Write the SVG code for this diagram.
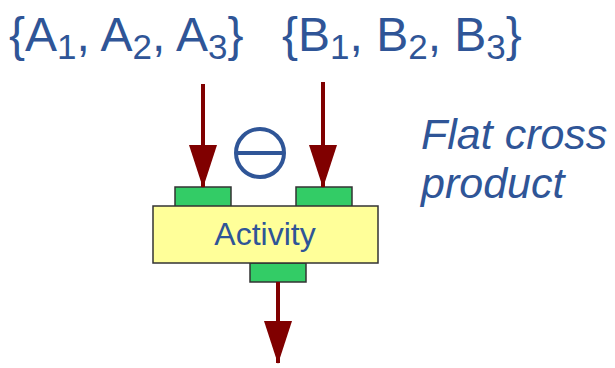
<svg xmlns="http://www.w3.org/2000/svg" width="615" height="368" viewBox="0 0 615 368">
<defs>
<style>
.t{font-family:"Liberation Sans",Arial,sans-serif;fill:#2F5597}
.pin{fill:#33CC66;stroke:#333;stroke-width:1.5}
.act{fill:#FFFF99;stroke:#333;stroke-width:1.5}
.flow{stroke:#800000;stroke-width:4;fill:none;marker-end:url(#ah)}
</style>
<marker id="ah" markerUnits="userSpaceOnUse" markerWidth="43" markerHeight="28" viewBox="0 0 43 28" refX="42" refY="14" orient="auto">
<path d="M0,0 L43,14 L0,28 z" fill="#800000"/>
</marker>
</defs>
<rect width="615" height="368" fill="#fff"/>
<g id="setA"><text class="t" x="9" y="51" font-size="48">{A<tspan font-size="35" dy="8">1</tspan><tspan dy="-8">, A</tspan><tspan font-size="35" dy="8">2</tspan><tspan dy="-8">, A</tspan><tspan font-size="35" dy="8">3</tspan><tspan dy="-8">}</tspan></text></g>
<g id="setB"><text class="t" x="282" y="51" font-size="48">{B<tspan font-size="35" dy="8">1</tspan><tspan dy="-8">, B</tspan><tspan font-size="35" dy="8">2</tspan><tspan dy="-8">, B</tspan><tspan font-size="35" dy="8">3</tspan><tspan dy="-8">}</tspan></text></g>
<g id="note"><text class="t" font-size="43" font-style="italic"><tspan x="421" y="149">Flat cross</tspan><tspan x="421" y="198">product</tspan></text></g>
<g id="theta"><circle cx="260" cy="153" r="24" fill="none" stroke="#2F5597" stroke-width="4"/><line x1="236" y1="153" x2="284" y2="153" stroke="#2F5597" stroke-width="4"/></g>
<g id="activity">
<rect class="pin" x="175" y="187" width="56" height="20"/>
<rect class="pin" x="296" y="187" width="56" height="20"/>
<rect class="pin" x="250" y="263" width="56" height="19"/>
<rect class="act" x="153" y="206" width="225" height="57"/>
<text class="t" x="265" y="245" font-size="32" text-anchor="middle">Activity</text>
</g>
<g id="connectors">
<line class="flow" x1="203" y1="84" x2="203" y2="187"/>
<line class="flow" x1="323" y1="82" x2="323" y2="187"/>
<line class="flow" x1="278" y1="282" x2="278" y2="363"/>
</g>
</svg>
